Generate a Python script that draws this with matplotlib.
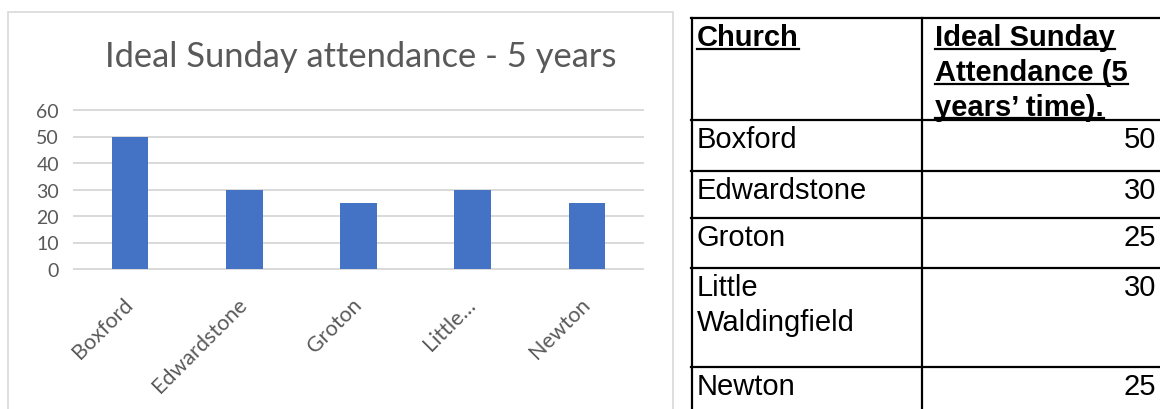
import matplotlib
matplotlib.use("Agg")
import matplotlib.pyplot as plt
from matplotlib.lines import Line2D
from matplotlib.patches import Rectangle

# ---- data ----
categories = ["Boxford", "Edwardstone", "Groton", "Little…", "Newton"]
attendance = [50, 30, 25, 30, 25]
y_ticks = [0, 10, 20, 30, 40, 50, 60]
chart_title = "Ideal Sunday attendance - 5 years"

table_header = ["Church", "Ideal Sunday\nAttendance (5\nyears’ time)."]
table_churches = ["Boxford", "Edwardstone", "Groton", "Little\nWaldingfield", "Newton"]
table_values = ["50", "30", "25", "30", "25"]

# ---- layout ----
W, H = 1160, 410
fig = plt.figure(figsize=(W / 100, H / 100), dpi=100)
fig.patch.set_facecolor("white")


def fx(px):
    return px / W


def fy(py):
    return 1 - py / H


GREY = "#595959"
CHART_FONT = ["Lato", "DejaVu Sans"]
TABLE_FONT = ["Liberation Sans", "DejaVu Sans"]

# chart frame
fig.add_artist(Rectangle((fx(8), fy(425)), fx(673) - fx(8), fy(13) - fy(425),
                         transform=fig.transFigure, fill=False,
                         edgecolor="#D9D9D9", lw=1.2))

ax = fig.add_axes([fx(73), fy(270), fx(644) - fx(73), fy(111) - fy(270)])
xpos = list(range(len(categories)))
ax.bar(xpos, attendance, width=0.32, color="#4472C4", zorder=3)
ax.set_xlim(-0.5, len(categories) - 0.5)
ax.set_ylim(0, y_ticks[-1])
ax.hlines(y_ticks, -0.5, len(categories) - 0.5, colors="#D9D9D9", lw=1.4,
          clip_on=False, zorder=1)
for s in ax.spines.values():
    s.set_visible(False)
ax.set_facecolor("none")
ax.tick_params(length=0)
ax.set_yticks(y_ticks)
ax.set_yticklabels([str(v) for v in y_ticks], fontsize=14, color=GREY,
                   family=CHART_FONT)
ax.tick_params(axis="y", pad=10)
ax.set_xticks(xpos)
ax.set_xticklabels(categories, rotation=45, ha="right", va="center",
                   rotation_mode="anchor", fontsize=15.5, color=GREY,
                   family=CHART_FONT)
ax.tick_params(axis="x", pad=23)

fig.text(fx(361), fy(67), chart_title, ha="center", va="baseline",
         fontsize=24.8, color=GREY, family=CHART_FONT)

# ---- table ----
col_x = [692, 922, 1160]
row_y = [19, 121, 172, 219, 269, 368, 420]
LW = 1.6
for y in row_y[:-1]:
    fig.add_artist(Line2D([fx(col_x[0] - 1), fx(col_x[-1])], [fy(y), fy(y)],
                          transform=fig.transFigure, color="black", lw=LW))
for x in col_x[:-1]:
    fig.add_artist(Line2D([fx(x), fx(x)], [fy(row_y[0]), fy(row_y[-1])],
                          transform=fig.transFigure, color="black", lw=LW))

FS = 21
LINE_STEP = 34.5
BASE_OFF = 27.5

underline_texts = []


def cell_text(content, x, top, ha="left", bold=False, underline=False):
    for i, line in enumerate(content.split("\n")):
        t = fig.text(fx(x), fy(top + BASE_OFF + i * LINE_STEP), line, ha=ha,
                     va="baseline", fontsize=FS, family=TABLE_FONT,
                     fontweight="bold" if bold else "normal", color="black")
        if underline:
            underline_texts.append((t, top + BASE_OFF + i * LINE_STEP))


cell_text(table_header[0], 697, row_y[0], bold=True, underline=True)
cell_text(table_header[1], 935, row_y[0], bold=True, underline=True)
for i, (name, val) in enumerate(zip(table_churches, table_values)):
    cell_text(name, 697, row_y[i + 1])
    cell_text(val, 1156, row_y[i + 1], ha="right")

fig.canvas.draw()
renderer = fig.canvas.get_renderer()
for t, base in underline_texts:
    bb = t.get_window_extent(renderer)
    fig.add_artist(Line2D([bb.x0 / W, bb.x1 / W], [fy(base + 3.5), fy(base + 3.5)],
                          transform=fig.transFigure, color="black", lw=1.6))

fig.savefig("out.png", dpi=100, facecolor="white")
